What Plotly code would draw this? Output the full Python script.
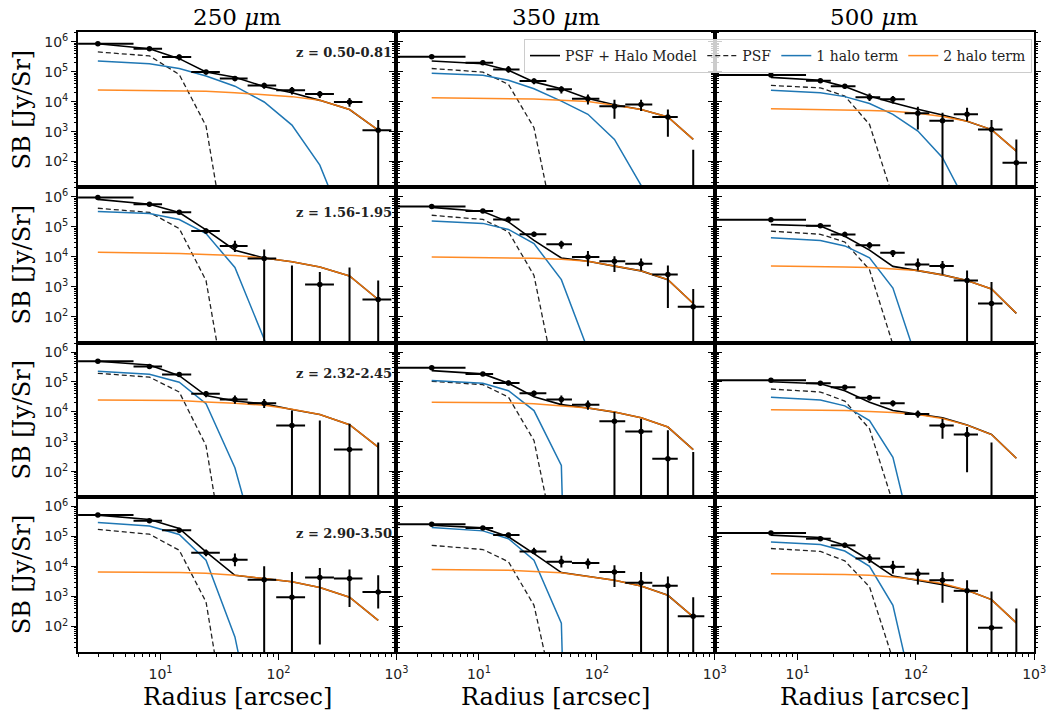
import plotly.graph_objects as go

W, H = 1061, 713

# ---------------- radii (bin centres and bin edges, arcsec) ----------------
r_250 = [2.94, 8.05, 14.4, 24.3, 42.7, 75.6, 130, 224, 400, 700]
edges_250 = [0, 5.9, 10.3, 18.2, 31.8, 54.7, 95.6, 168, 295, 515, 905]
r_350 = [3.98, 10.8, 17.8, 29.3, 50, 84, 141, 237, 400, 656]
edges_350 = [0, 7.7, 13.2, 22.1, 37.3, 61.5, 105, 174, 295, 485, 815]
r_500 = [5.96, 15.6, 25.1, 40.6, 64, 104, 168, 271, 436, 707]
edges_500 = [0, 11.8, 19.1, 30.9, 50, 80.5, 130, 209, 335, 540, 870]

z_labels = ["z = 0.50-0.81", "z = 1.56-1.95", "z = 2.32-2.45", "z = 2.90-3.50"]
bands = ["250", "350", "500"]

# ---------------- 250 um ----------------
sb_250_1 = [8.7e5, 5.9e5, 3.1e5, 9.8e4, 6.0e4, 3.5e4, 2.4e4, 1.8e4, 9.8e3, 1.12e3]
hi_250_1 = [9.3e5, 6.5e5, 3.8e5, 1.15e5, 7.2e4, 4.3e4, 3.1e4, 2.26e4, 1.32e4, 2.45e3]
lo_250_1 = [8.1e5, 5.4e5, 2.4e5, 8.1e4, 4.8e4, 2.7e4, 1.74e4, 1.32e4, 6.8e3, 0]
tot_250_1 = [8.7e5, 5.9e5, 2.75e5, 9.8e4, 6.6e4, 3.2e4, 2.0e4, 1.11e4, 5.5e3, 1.12e3]
psf_250_1 = [4.6e5, 3.4e5, 8.1e4, 1.55e3, 3e-3, None, None, None, None, None]
one_250_1 = [2.3e5, 1.86e5, 1.29e5, 7.2e4, 3.3e4, 9.8e3, 1.66e3, 76, 0.27, None]
two_250_1 = [2.45e4, 2.4e4, 2.34e4, 2.24e4, 2.0e4, 1.76e4, 1.48e4, 1.11e4, 5.5e3, 1.12e3]

sb_250_2 = [9.3e5, 5.6e5, 3.0e5, 7.2e4, 2.3e4, 8.7e3, 1, 1.2e3, 1, 380]
hi_250_2 = [1.0e6, 6.5e5, 3.4e5, 8.7e4, 3.4e4, 1.74e4, 5.1e3, 3.1e3, 4.4e3, 1.62e3]
lo_250_2 = [8.7e5, 5.0e5, 2.6e5, 5.9e4, 1.45e4, 0, 0, 0, 0, 0]
tot_250_2 = [8.1e5, 5.6e5, 2.95e5, 7.8e4, 1.66e4, 9.1e3, 6.8e3, 4.6e3, 2.3e3, 380]
psf_250_2 = [4.1e5, 3.0e5, 8.7e4, 1.62e3, 5e-3, None, None, None, None, None]
one_250_2 = [3.2e5, 2.75e5, 1.74e5, 5.9e4, 4.4e3, 21, 0.1, None, None, None]
two_250_2 = [1.41e4, 1.38e4, 1.29e4, 1.2e4, 1.1e4, 9.1e3, 6.8e3, 4.6e3, 2.3e3, 380]

sb_250_3 = [4.9e5, 3.3e5, 1.78e5, 4.0e4, 2.6e4, 1.95e4, 3.5e3, 1, 550, 1]
hi_250_3 = [5.1e5, 3.7e5, 2.14e5, 4.9e4, 3.5e4, 2.7e4, 1.1e4, 5.1e3, 4.0e3, 950]
lo_250_3 = [4.7e5, 2.9e5, 1.51e5, 3.1e4, 1.86e4, 1.35e4, 0, 0, 0, 0]
tot_250_3 = [4.9e5, 3.7e5, 1.62e5, 3.5e4, 2.3e4, 1.86e4, 1.2e4, 8.1e3, 3.7e3, 660]
psf_250_3 = [1.95e5, 1.45e5, 4.6e4, 740, 1e-3, None, None, None, None, None]
one_250_3 = [2.3e5, 1.82e5, 9.8e4, 1.86e4, 135, 0.04, None, None, None, None]
two_250_3 = [2.5e4, 2.45e4, 2.4e4, 2.14e4, 1.95e4, 1.66e4, 1.23e4, 8.1e3, 3.7e3, 660]

sb_250_4 = [5.2e5, 3.4e5, 1.62e5, 2.9e4, 1.7e4, 3.6e3, 950, 4.3e3, 4.0e3, 1.41e3]
hi_250_4 = [5.5e5, 3.8e5, 1.95e5, 3.7e4, 2.7e4, 1.02e4, 6.6e3, 8.9e3, 7.9e3, 5.1e3]
lo_250_4 = [5.0e5, 2.95e5, 1.38e5, 2.2e4, 1.02e4, 0, 0, 25, 450, 400]
tot_250_4 = [5.2e5, 3.7e5, 1.86e5, 3.1e4, 5.1e3, 4.0e3, 3.1e3, 2.0e3, 950, 160]
psf_250_4 = [1.74e5, 1.2e5, 3.5e4, 660, 1e-3, None, None, None, None, None]
one_250_4 = [2.95e5, 2.24e5, 1.17e5, 1.62e4, 45, 1e-3, None, None, None, None]
two_250_4 = [6.6e3, 6.5e3, 6.3e3, 6.0e3, 5.1e3, 4.0e3, 3.1e3, 2.0e3, 950, 160]

# ---------------- 350 um ----------------
sb_350_1 = [3.2e5, 2.0e5, 1.2e5, 4.9e4, 2.6e4, 1.26e4, 7.1e3, 8.1e3, 3.1e3, 1]
hi_350_1 = [3.3e5, 2.4e5, 1.55e5, 6.0e4, 3.3e4, 1.74e4, 1.17e4, 1.17e4, 5.5e3, 250]
lo_350_1 = [3.0e5, 1.7e5, 9.3e4, 3.8e4, 1.9e4, 8.1e3, 2.7e3, 4.9e3, 680, 0]
tot_350_1 = [2.3e5, 1.86e5, 1.12e5, 4.6e4, 2.7e4, 1.29e4, 7.9e3, 5.5e3, 3.1e3, 550]
psf_350_1 = [1.29e5, 9.8e4, 3.8e4, 1.35e3, 0.05, None, None, None, None, None]
one_350_1 = [8.9e4, 7.6e4, 5.2e4, 2.7e4, 1.05e4, 3.8e3, 550, 16, 0.1, None]
two_350_1 = [1.35e4, 1.32e4, 1.29e4, 1.23e4, 1.12e4, 1.02e4, 7.6e3, 5.5e3, 3.1e3, 550]

sb_350_2 = [4.7e5, 3.3e5, 1.74e5, 5.6e4, 2.6e4, 9.8e3, 7.1e3, 5.9e3, 2.6e3, 220]
hi_350_2 = [4.9e5, 3.8e5, 2.14e5, 6.8e4, 3.4e4, 1.55e4, 1.05e4, 8.7e3, 5.1e3, 850]
lo_350_2 = [4.5e5, 2.9e5, 1.41e5, 4.6e4, 1.86e4, 4.8e3, 3.1e3, 3.5e3, 200, 0]
tot_350_2 = [4.4e5, 3.2e5, 1.45e5, 3.5e4, 9.1e3, 7.1e3, 4.9e3, 3.4e3, 1.74e3, 280]
psf_350_2 = [2.4e5, 1.74e5, 6.8e4, 2.4e3, 0.08, None, None, None, None, None]
one_350_2 = [1.55e5, 1.29e5, 8.1e4, 2.75e4, 1.74e3, 8, 0.01, None, None, None]
two_350_2 = [9.8e3, 9.5e3, 9.3e3, 8.9e3, 8.3e3, 7.1e3, 4.9e3, 3.4e3, 1.74e3, 280]

sb_350_3 = [3.0e5, 1.86e5, 9.3e4, 4.2e4, 2.6e4, 1.74e4, 4.8e3, 2.2e3, 270, 1]
hi_350_3 = [3.1e5, 2.14e5, 1.12e5, 5.1e4, 3.5e4, 2.4e4, 9.8e3, 5.8e3, 2.4e3, 450]
lo_350_3 = [2.8e5, 1.62e5, 7.6e4, 3.3e4, 1.74e4, 1.17e4, 0, 0, 0, 0]
tot_350_3 = [2.4e5, 1.86e5, 9.1e4, 3.2e4, 1.74e4, 1.35e4, 9.8e3, 6.3e3, 3.1e3, 540]
psf_350_3 = [1.05e5, 8.1e4, 3.1e4, 1.1e3, 0.04, None, None, None, None, None]
one_350_3 = [1.12e5, 9.1e4, 5.1e4, 1.1e4, 160, 1e-30, None, None, None, None]
two_350_3 = [2.1e4, 2.04e4, 2.0e4, 1.86e4, 1.62e4, 1.35e4, 9.8e3, 6.3e3, 3.1e3, 540]

sb_350_4 = [2.6e5, 1.95e5, 1.12e5, 3.2e4, 1.45e4, 1.32e4, 6.6e3, 2.9e3, 2.3e3, 220]
hi_350_4 = [2.7e5, 2.24e5, 1.35e5, 4.2e4, 2.3e4, 1.86e4, 1.1e4, 6.6e3, 4.7e3, 950]
lo_350_4 = [2.45e5, 1.74e5, 9.3e4, 2.6e4, 9.3e3, 8.5e3, 2.1e3, 0, 0, 0]
tot_350_4 = [2.4e5, 1.95e5, 9.8e4, 2.7e4, 6.3e3, 4.7e3, 3.5e3, 2.24e3, 1.1e3, 210]
psf_350_4 = [5.1e4, 3.7e4, 1.45e4, 510, 0.04, None, None, None, None, None]
one_350_4 = [2.0e5, 1.55e5, 8.5e4, 1.62e4, 130, 1e-30, None, None, None, None]
two_350_4 = [7.9e3, 7.8e3, 7.6e3, 6.9e3, 6.2e3, 4.7e3, 3.5e3, 2.24e3, 1.1e3, 210]

# ---------------- 500 um ----------------
sb_500_1 = [7.8e4, 5.0e4, 3.3e4, 1.41e4, 1.2e4, 4.1e3, 2.3e3, 3.8e3, 1.17e3, 91]
hi_500_1 = [8.1e4, 5.9e4, 3.9e4, 1.9e4, 1.55e4, 6.8e3, 4.3e3, 6.3e3, 2.45e3, 550]
lo_500_1 = [7.4e4, 4.3e4, 2.7e4, 1.05e4, 8.7e3, 1.17e3, 0, 2.24e3, 0, 0]
tot_500_1 = [6.5e4, 5.2e4, 3.2e4, 1.55e4, 9.3e3, 5.6e3, 3.6e3, 2.24e3, 1.17e3, 224]
psf_500_1 = [3.5e4, 2.9e4, 1.55e4, 1.74e3, 6.3, None, None, None, None, None]
one_500_1 = [2.4e4, 2.0e4, 1.48e4, 8.7e3, 3.8e3, 1.05e3, 135, 4, 0.1, None]
two_500_1 = [5.8e3, 5.5e3, 5.4e3, 5.1e3, 4.8e3, 4.1e3, 3.2e3, 2.24e3, 1.17e3, 224]

sb_500_2 = [1.7e5, 1.07e5, 5.5e4, 2.4e4, 1.35e4, 5.5e3, 4.9e3, 1.62e3, 280, None]
hi_500_2 = [1.78e5, 1.23e5, 6.8e4, 3.1e4, 1.66e4, 8.7e3, 7.2e3, 3.5e3, 1.45e3, None]
lo_500_2 = [1.62e5, 9.3e4, 4.6e4, 1.86e4, 9.8e3, 3.5e3, 2.6e3, 0, 0, None]
tot_500_2 = [1.17e5, 1.05e5, 4.8e4, 1.66e4, 4.8e3, 3.5e3, 2.5e3, 1.62e3, 850, 132]
psf_500_2 = [7.1e4, 5.6e4, 3.1e4, 3.7e3, 12, None, None, None, None, None]
one_500_2 = [4.3e4, 3.5e4, 2.3e4, 9.3e3, 910, 4, 0.01, None, None, None]
two_500_2 = [4.9e3, 4.8e3, 4.6e3, 4.4e3, 4.0e3, 3.5e3, 2.5e3, 1.62e3, 850, 132]

sb_500_3 = [1.15e5, 9.1e4, 6.6e4, 2.95e4, 1.95e4, 8.5e3, 3.5e3, 1.74e3, 1, None]
hi_500_3 = [1.2e5, 1.02e5, 7.9e4, 3.5e4, 2.4e4, 1.1e4, 5.9e3, 3.1e3, 950, None]
lo_500_3 = [1.1e5, 7.9e4, 5.4e4, 2.4e4, 1.51e4, 6.3e3, 1.26e3, 95, 0, None]
tot_500_3 = [1.02e5, 8.7e4, 5.1e4, 2.1e4, 1.1e4, 8.5e3, 6.3e3, 3.6e3, 1.74e3, 280]
psf_500_3 = [5.8e4, 4.6e4, 2.3e4, 2.7e3, 9, None, None, None, None, None]
one_500_3 = [3.1e4, 2.5e4, 1.58e4, 5.1e3, 300, 0.11, None, None, None, None]
two_500_3 = [1.17e4, 1.15e4, 1.1e4, 1.02e4, 9.5e3, 8.1e3, 6.0e3, 3.6e3, 1.74e3, 280]

sb_500_4 = [1.32e5, 8.5e4, 5.1e4, 1.86e4, 9.8e3, 5.8e3, 3.5e3, 1.55e3, 91, 1]
hi_500_4 = [1.38e5, 9.8e4, 6.2e4, 2.6e4, 1.55e4, 8.5e3, 6.6e3, 3.5e3, 1.48e3, 400]
lo_500_4 = [1.26e5, 7.6e4, 4.3e4, 1.32e4, 5.8e3, 2.5e3, 620, 0, 0, 0]
tot_500_4 = [1.12e5, 9.3e4, 5.1e4, 1.62e4, 4.8e3, 3.5e3, 2.5e3, 1.62e3, 790, 132]
psf_500_4 = [4.0e4, 3.2e4, 1.55e4, 2.1e3, 8, None, None, None, None, None]
one_500_4 = [6.6e4, 5.4e4, 3.3e4, 1.02e4, 510, 0.12, None, None, None, None]
two_500_4 = [5.8e3, 5.6e3, 5.4e3, 5.1e3, 4.5e3, 3.6e3, 2.7e3, 1.62e3, 790, 132]

# ---------------- assemble panel table ----------------
G = globals()
radii = {"250": (r_250, edges_250), "350": (r_350, edges_350), "500": (r_500, edges_500)}

col_px = [(79, 401), (401, 723), (723, 1046)]
row_px = [(32.3, 187), (187, 342.5), (342.5, 497), (497, 652)]

BLUE = "#1f77b4"
ORANGE = "#ff7f0e"
SERIF = "DejaVu Serif"
SANS = "DejaVu Sans"

fig = go.Figure()
layout = {}

for ri in range(4):
    for ci, band in enumerate(bands):
        k = ri * 3 + ci + 1
        xs = "x" if k == 1 else f"x{k}"
        ys = "y" if k == 1 else f"y{k}"
        r, edges = radii[band]
        suf = f"{band}_{ri + 1}"
        sb, hi, lo = G["sb_" + suf], G["hi_" + suf], G["lo_" + suf]
        tot, psf, one, two = G["tot_" + suf], G["psf_" + suf], G["one_" + suf], G["two_" + suf]
        first = (k == 1)

        fig.add_trace(go.Scatter(x=r, y=tot, mode="lines", xaxis=xs, yaxis=ys,
                                 line=dict(color="black", width=1.6),
                                 name="PSF + Halo Model", showlegend=first, legendrank=1))
        fig.add_trace(go.Scatter(x=r, y=psf, mode="lines", xaxis=xs, yaxis=ys,
                                 line=dict(color="#222222", width=1.3, dash="5px,3px"),
                                 name="PSF", showlegend=first, legendrank=2))
        fig.add_trace(go.Scatter(x=r, y=one, mode="lines", xaxis=xs, yaxis=ys,
                                 line=dict(color=BLUE, width=1.5),
                                 name="1 halo term", showlegend=first, legendrank=3))
        fig.add_trace(go.Scatter(x=r, y=two, mode="lines", xaxis=xs, yaxis=ys,
                                 line=dict(color=ORANGE, width=1.5), opacity=0.9,
                                 name="2 halo term", showlegend=first, legendrank=4))

        ex_p = [edges[i + 1] - r[i] for i in range(len(r))]
        ex_m = [r[i] - edges[i] for i in range(len(r))]
        ey_p = [None if (s is None) else h - s for s, h in zip(sb, hi)]
        ey_m = [None if (s is None) else s - l for s, l in zip(sb, lo)]
        fig.add_trace(go.Scatter(
            x=r, y=sb, mode="markers", xaxis=xs, yaxis=ys, showlegend=False,
            marker=dict(color="black", size=5.5),
            error_x=dict(type="data", symmetric=False, array=ex_p, arrayminus=ex_m,
                         color="black", thickness=2, width=0),
            error_y=dict(type="data", symmetric=False, array=ey_p, arrayminus=ey_m,
                         color="black", thickness=2, width=0)))

        x0, x1 = col_px[ci]
        y0, y1 = row_px[ri]
        bottom = (ri == 3)
        left = (ci == 0)
        xa = dict(type="log", range=[0.30103, 3.0], domain=[x0 / W, x1 / W],
                  anchor=ys, showgrid=False, zeroline=False,
                  showline=True, linecolor="black", linewidth=2, mirror=True,
                  ticks="outside" if bottom else "", ticklen=6, tickwidth=1.2, tickcolor="black",
                  tickvals=[10, 100, 1000],
                  ticktext=["10<sup>1</sup>", "10<sup>2</sup>", "10<sup>3</sup>"],
                  showticklabels=bottom, ticklabelstandoff=2,
                  tickfont=dict(family=SANS, size=14, color="#222222"))
        if bottom:
            xa["minor"] = dict(ticks="outside", ticklen=3, tickwidth=1, tickcolor="black", dtick="D1")
        ya = dict(type="log", range=[1.15, 6.32], domain=[1 - y1 / H, 1 - y0 / H],
                  anchor=xs, showgrid=False, zeroline=False,
                  showline=True, linecolor="black", linewidth=2, mirror="ticks",
                  ticks="outside", ticklen=5, tickwidth=1.2, tickcolor="black",
                  tickvals=[1e2, 1e3, 1e4, 1e5, 1e6],
                  ticktext=["10<sup>2</sup>", "10<sup>3</sup>", "10<sup>4</sup>",
                            "10<sup>5</sup>", "10<sup>6</sup>"],
                  showticklabels=left,
                  tickfont=dict(family=SANS, size=14, color="#222222"),
                  minor=dict(ticks="outside", ticklen=2, tickwidth=0.8, tickcolor="black", dtick="D1"))
        layout["xaxis" if k == 1 else f"xaxis{k}"] = xa
        layout["yaxis" if k == 1 else f"yaxis{k}"] = ya

annotations = []
for ci, band in enumerate(bands):
    cx = (col_px[ci][0] + col_px[ci][1]) / 2
    annotations.append(dict(text=f"{band} <i>μ</i>m", x=cx / W, y=1 - 17 / H,
                            xref="paper", yref="paper", showarrow=False,
                            xanchor="center", yanchor="middle",
                            font=dict(family=SERIF, size=23, color="black")))
    annotations.append(dict(text="Radius [arcsec]", x=cx / W, y=1 - 697 / H,
                            xref="paper", yref="paper", showarrow=False,
                            xanchor="center", yanchor="middle",
                            font=dict(family=SERIF, size=24, color="black")))
z_y = [52, 212, 373, 533]
for ri in range(4):
    cy = (row_px[ri][0] + row_px[ri][1]) / 2
    annotations.append(dict(text="SB [Jy/Sr]", x=22 / W, y=1 - cy / H, textangle=-90,
                            xref="paper", yref="paper", showarrow=False,
                            xanchor="center", yanchor="middle",
                            font=dict(family=SERIF, size=24, color="black")))
    annotations.append(dict(text=f"<b>{z_labels[ri]}</b>", x=399 / W, y=1 - z_y[ri] / H,
                            xref="paper", yref="paper", showarrow=False,
                            xanchor="right", yanchor="middle",
                            font=dict(family=SERIF, size=13, color="#222222")))

fig.update_layout(
    width=W, height=H,
    margin=dict(l=0, r=0, t=0, b=0),
    paper_bgcolor="white", plot_bgcolor="white",
    annotations=annotations,
    legend=dict(orientation="h", x=530 / W, y=1 - 39 / H, xanchor="left", yanchor="top",
                font=dict(family=SERIF, size=14, color="#222222"),
                bgcolor="rgba(255,255,255,0.8)", bordercolor="#cccccc", borderwidth=1,
                itemwidth=30, traceorder="normal"),
    **layout,
)

fig.write_html("out.html")
